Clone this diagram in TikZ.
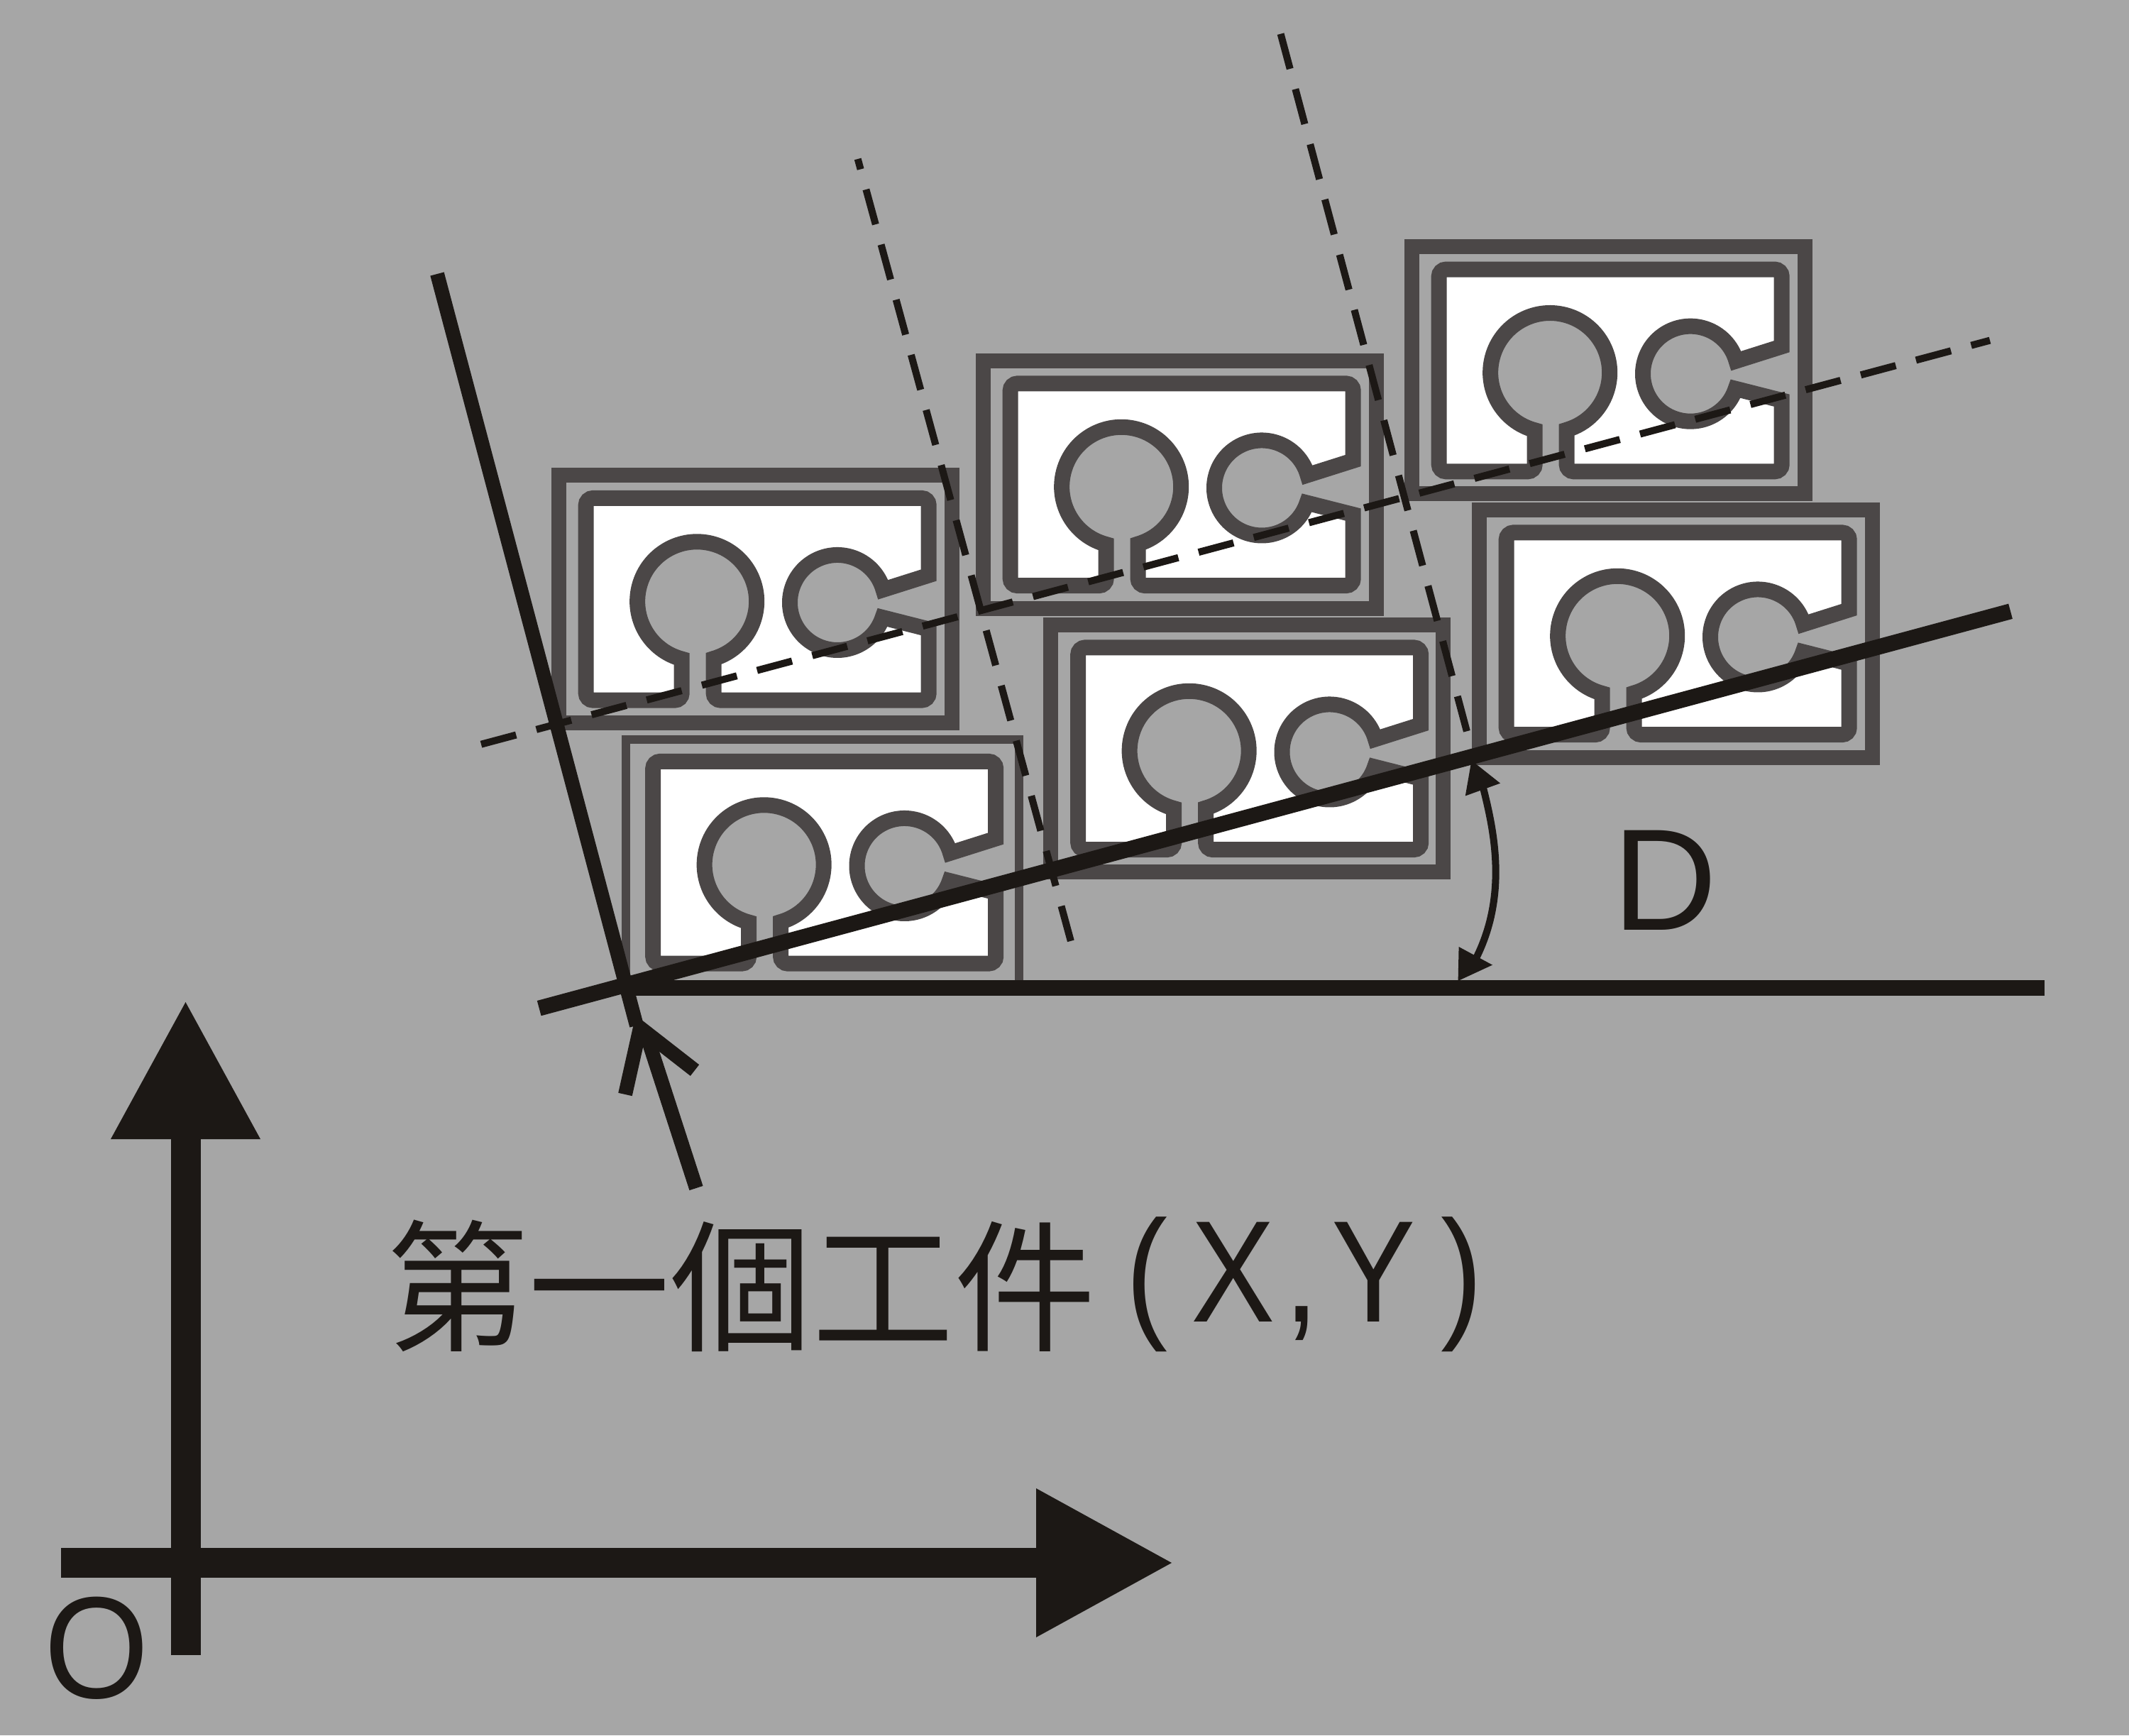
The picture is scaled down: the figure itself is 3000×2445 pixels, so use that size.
\documentclass[tikz,border=0pt]{standalone}
\usepackage{graphicx}
\usepackage{fontspec}
\setmainfont{Liberation Sans}
\newfontfamily\cjkfont{Noto Sans CJK TC}
\definecolor{bgc}{HTML}{A6A6A6}
\definecolor{gr}{HTML}{4B4747}
\definecolor{ink}{HTML}{1C1815}
\tikzset{
  plate/.style={draw=gr,fill=white,line width=22pt,miter limit=10},
  frameT/.style={draw=gr,line width=21pt},
  frameN/.style={draw=gr,line width=12pt},
  heavy/.style={draw=ink,line width=20pt},
  heavyB/.style={draw=ink,line width=22pt},
  axis/.style={draw=ink,line width=42pt},
  dashl/.style={draw=ink,line width=10pt,dash pattern=on 51pt off 29.5pt},
  head/.style={fill=ink,draw=none},
  lab/.style={inner sep=0pt,outer sep=0pt,text=ink},
  workpiece/.pic={
    \path[plate] (531.7,151.5) -- (531.7,120)
      [rounded corners=10pt] -- (531.7,42.9) -- (48.7,42.9) -- (48.7,327.6)
      -- (183.7,327.6) -- (183.7,285) [sharp corners] -- (183.7,269.5)
      arc[start angle=104.8,end angle=433.8,radius=84]
      [rounded corners=10pt] -- (228.6,285) -- (228.6,327.6) -- (531.7,327.6)
      -- (531.7,250) [sharp corners] -- (531.7,227.5) -- (466.6,211)
      arc[start angle=18.3,end angle=344.3,radius=67] -- cycle;
  },
}
\begin{document}
\begin{tikzpicture}[x=1pt,y=-1pt]
\useasboundingbox (0,0) rectangle (3000,2445);
\fill[bgc] (0,0) rectangle (3000,2445);
% frames with workpieces
\draw[frameT] (787.5,669.5) rectangle (1341.5,1018.5);
\pic at (777,659) {workpiece};
\draw[frameN] (882.4,1042) rectangle (1435.6,1391);
\pic at (871.5,1030) {workpiece};
\draw[frameT] (1385.5,508) rectangle (1939.5,857.5);
\pic at (1375,497.5) {workpiece};
\draw[frameT] (1480.5,880.5) rectangle (2033.5,1228);
\pic at (1470.5,869.5) {workpiece};
\draw[frameT] (1989.5,347) rectangle (2543.5,695.5);
\pic at (1979,336.7) {workpiece};
\draw[frameT] (2084.5,718) rectangle (2638.5,1067);
\pic at (2074,707.5) {workpiece};
% dashed construction lines
\coordinate (d1a) at (678,1048.7);
\coordinate (d1b) at (2804,479.6);
\coordinate (d2a) at (1208.7,224);
\coordinate (d2b) at (1510,1330);
\coordinate (d3a) at (1804.6,47.7);
\coordinate (d3b) at (2070,1042);
\draw[dashl] (d1a) -- (d1b);
\draw[dashl,dash phase=36pt] (d2a) -- (d2b);
\draw[dashl] (d3a) -- (d3b);
% solid lines
\coordinate (basea) at (890,1391.5);
\coordinate (baseb) at (2881,1391.5);
\coordinate (heavya) at (759.7,1420.6);
\coordinate (heavyb) at (2833,861.3);
\coordinate (lefta) at (616,386);
\coordinate (lefte) at (897,1445);
\coordinate (tip) at (902,1448);
\coordinate (shaft) at (909,1452);
\coordinate (tail) at (981,1674);
\coordinate (barba) at (979,1508);
\coordinate (barbb) at (881,1542);
\draw[heavyB] (basea) -- (baseb);
\draw[heavyB] (heavya) -- (heavyb);
\draw[heavy] (lefta) -- (lefte);
\draw[heavy] (tail) -- (shaft);
\draw[heavy,line join=miter] (barbb) -- (tip) -- (barba);
% angle arrow
\coordinate (angA) at (2090,1110);
\coordinate (angB) at (2080,1350);
\draw[ink,line width=10pt] (angA) .. controls (2105,1170) and (2125,1260) .. (angB);
\fill[head] (2073.5,1071.4) -- (2114,1103.6) -- (2064.8,1121.4) -- cycle;
\fill[head] (2055.6,1334) -- (2103,1359.6) -- (2054.6,1382) -- cycle;
% axes
\coordinate (oy) at (262,2332);
\coordinate (yt) at (262,1604);
\coordinate (ox) at (86,2202);
\coordinate (xt) at (1462,2202);
\draw[axis] (oy) -- (yt);
\draw[axis] (ox) -- (xt);
\fill[head] (261.5,1412) -- (367,1605) -- (156,1605) -- cycle;
\fill[head] (1460,2097) -- (1651,2202) -- (1460,2307) -- cycle;
% labels
\node[lab] (lo) at (136,2322) {\scalebox{0.93}[1]{\fontsize{204}{240}\selectfont O}};
\node[lab] (ld) at (2346,1240) {\fontsize{204}{240}\selectfont D};
\node[lab] (lc) at (1044.5,1812) {\cjkfont\fontsize{200}{240}\selectfont 第一個工件};
\node[lab] (lx) at (1838,1810) {\scalebox{0.87}[1]{\fontsize{204}{240}\selectfont (\kern38pt X\kern15pt,\kern20pt Y\kern41pt)}};
\end{tikzpicture}
\end{document}
